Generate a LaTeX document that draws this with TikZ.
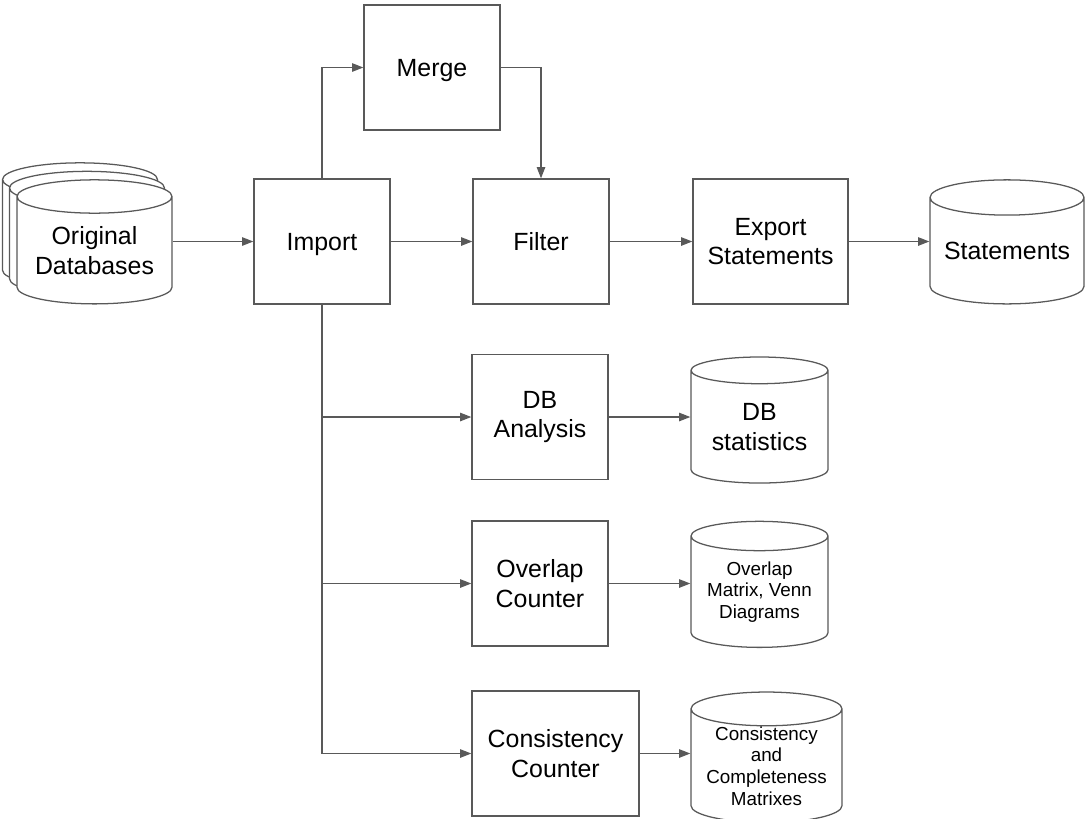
\documentclass[tikz,border=0pt]{standalone}
\usepackage{fontspec}
\setmainfont{Liberation Sans}
\usepackage{tikz}
\usetikzlibrary{shapes.geometric,arrows.meta}
\definecolor{linegray}{HTML}{595959}
\tikzstyle{node_box} = [rectangle, draw=linegray, line width=0.9pt, fill=white, inner sep=0pt, align=center, font=\fontsize{17.7}{21}\selectfont, minimum width=3.4cm, minimum height=3.125cm]
\tikzstyle{node_db} = [cylinder, shape border rotate=90, aspect=0.28, draw=linegray, line width=0.9pt, fill=white, inner sep=0pt, align=center, font=\fontsize{17.7}{21}\selectfont]
\tikzstyle{text_small} = [font=\fontsize{13.4}{15.5}\selectfont]
\tikzstyle{edge_arrow} = [draw=linegray, line width=0.9pt, -{Triangle[length=8pt,width=6pt]}]

\begin{document}
\begin{tikzpicture}[x=0.025cm, y=-0.025cm]
\useasboundingbox (0,0) rectangle (1085,818);
\node (orig_back2) at (80,233.5) [node_db, minimum width=3.875cm, minimum height=3.1cm] {\phantom{Original}\\\phantom{Databases}};
\node (orig_back1) at (87,242) [node_db, minimum width=3.875cm, minimum height=3.1cm] {\phantom{Original}\\\phantom{Databases}};
\node (orig) at (94.5,250.5) [node_db, minimum width=3.875cm, minimum height=3.1cm] {Original\\Databases};
\node (import) at (322,241.5) [node_box, text depth=0pt] {Import};
\node (merge) at (432,67.5) [node_box, text depth=0pt] {Merge};
\node (filter) at (541,241.5) [node_box] {Filter};
\node (export) at (770.5,241.5) [node_box, minimum width=3.875cm] {Export\\Statements};
\node (stmts) at (1007,251) [node_db, minimum width=3.85cm, minimum height=3.1cm] {Statements};
\node (dba) at (540,417) [node_box] {DB\\Analysis};
\node (dbstats) at (759.5,427) [node_db, minimum width=3.425cm, minimum height=3.15cm] {DB\\statistics};
\node (overlap) at (540,583.5) [node_box] {Overlap\\Counter};
\node (venn) at (759.5,592) [node_db, text_small, minimum width=3.425cm, minimum height=3.15cm] {Overlap\\Matrix, Venn\\Diagrams};
\node (consist) at (555.5,753.5) [node_box, minimum width=4.175cm] {Consistency\\Counter};
\node (matrixes) at (766.5,766) [node_db, text_small, minimum width=3.775cm, minimum height=3.05cm] {Consistency\\and\\Completeness\\Matrixes};
\draw[edge_arrow] (orig.east |- import.west)--(import.west);
\draw[edge_arrow] (import)--(filter);
\draw[edge_arrow] (filter)--(export);
\draw[edge_arrow] (export.east)--(export.east -| stmts.west);
\draw[edge_arrow] (import.north) |- (merge.west);
\draw[edge_arrow] (merge.east) -| (filter.north);
\draw[edge_arrow] (import.south) |- (dba.west);
\draw[edge_arrow] (import.south) |- (overlap.west);
\draw[edge_arrow] (import.south) |- (consist.west);
\draw[edge_arrow] (dba.east)--(dba.east -| dbstats.west);
\draw[edge_arrow] (overlap.east)--(overlap.east -| venn.west);
\draw[edge_arrow] (consist.east)--(consist.east -| matrixes.west);
\end{tikzpicture}
\end{document}
